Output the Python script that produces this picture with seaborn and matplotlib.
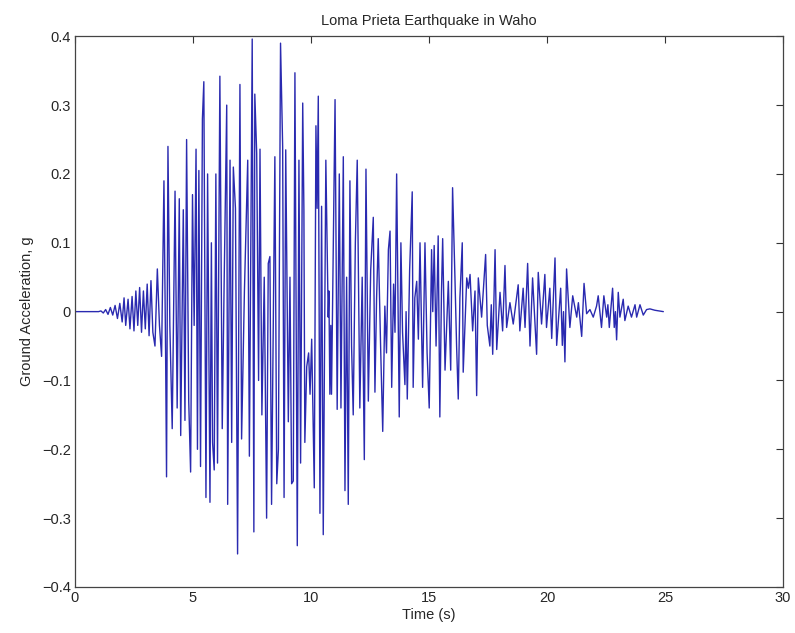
import numpy as np
import pandas as pd
import matplotlib
matplotlib.use("Agg")
import matplotlib.pyplot as plt
import seaborn as sns

# Peak/trough readings (time in s, acceleration in g) read from the record
time_s = [
    0.0, 1.0, 1.1, 1.2, 1.3, 1.4, 1.5, 1.6, 1.7, 1.8, 1.9, 2.0, 2.08, 2.15, 2.25,
    2.33, 2.42, 2.5, 2.58, 2.66, 2.74, 2.82, 2.9, 2.98, 3.06, 3.14, 3.22, 3.3, 3.39,
    3.49, 3.58, 3.67, 3.77, 3.84, 3.88, 3.94, 4.02, 4.12, 4.24, 4.33, 4.42, 4.48,
    4.59, 4.66, 4.73, 4.82, 4.9, 4.98, 5.05, 5.13, 5.19, 5.25, 5.32, 5.4, 5.46,
    5.55, 5.62, 5.72, 5.78, 5.83, 5.9, 5.97, 6.04, 6.14, 6.24, 6.32, 6.43, 6.47,
    6.57, 6.64, 6.71, 6.8, 6.89, 6.99, 7.06, 7.18, 7.32, 7.39, 7.51, 7.58, 7.62,
    7.7, 7.78, 7.84, 7.92, 8.02, 8.12, 8.19, 8.26, 8.33, 8.47, 8.55, 8.62, 8.71,
    8.8, 8.86, 8.93, 9.04, 9.11, 9.18, 9.25, 9.32, 9.42, 9.49, 9.56, 9.65, 9.70,
    9.74, 9.82, 9.9, 9.96, 10.03, 10.14, 10.21, 10.26, 10.31, 10.38, 10.45, 10.52,
    10.63, 10.73, 10.76, 10.8, 10.84, 10.87, 11.02, 11.11, 11.2, 11.27, 11.37,
    11.44, 11.51, 11.58, 11.65, 11.72, 11.79, 11.88, 11.96, 12.07, 12.17, 12.26,
    12.33, 12.43, 12.53, 12.64, 12.71, 12.78, 12.85, 12.95, 13.04, 13.13, 13.2,
    13.28, 13.35, 13.42, 13.5, 13.56, 13.63, 13.69, 13.74, 13.81, 13.88, 13.98,
    14.03, 14.08, 14.18, 14.29, 14.33, 14.4, 14.48, 14.55, 14.62, 14.73, 14.83,
    14.92, 15.01, 15.11, 15.16, 15.22, 15.3, 15.39, 15.46, 15.53, 15.58, 15.68,
    15.82, 15.92, 16.0, 16.1, 16.17, 16.24, 16.31, 16.41, 16.45, 16.6, 16.67,
    16.74, 16.85, 16.95, 17.02, 17.09, 17.23, 17.4, 17.47, 17.58, 17.64, 17.7,
    17.8, 17.87, 18.01, 18.12, 18.22, 18.29, 18.43, 18.57, 18.78, 18.85, 18.99,
    19.07, 19.18, 19.28, 19.39, 19.56, 19.63, 19.77, 19.91, 19.98, 20.12, 20.2,
    20.34, 20.41, 20.58, 20.65, 20.7, 20.76, 20.83, 20.97, 21.09, 21.26, 21.33,
    21.47, 21.57, 21.68, 21.82, 21.96, 22.1, 22.17, 22.31, 22.41, 22.53, 22.58,
    22.64, 22.78, 22.85, 22.9, 22.95, 23.02, 23.09, 23.23, 23.3, 23.44, 23.58,
    23.73, 23.8, 23.94, 24.08, 24.22, 24.36, 24.57, 24.93,
]
accel_g = [
    0.0, 0.0, 0.001, -0.002, 0.003, -0.004, 0.006, -0.005, 0.009, -0.01, 0.012,
    -0.015, 0.02, -0.02, 0.018, -0.025, 0.022, -0.028, 0.03, -0.02, 0.035, -0.03,
    0.03, -0.025, 0.04, -0.035, 0.045, -0.03, -0.05,
    0.062, -0.02, -0.065, 0.19, -0.06, -0.24, 0.24, -0.02, -0.17, 0.175, -0.14,
    0.164, -0.18, 0.148, -0.158, 0.25, -0.13, -0.233, 0.17, -0.02, 0.236, -0.2,
    0.205, -0.225, 0.28, 0.334, -0.27, 0.2, -0.277, 0.1, -0.19, -0.23, 0.2, -0.22,
    0.342, -0.17, 0.04, 0.3, -0.28, 0.22, -0.19, 0.21, 0.15, -0.352, 0.33, -0.185,
    0.03, 0.22, -0.21, 0.396, -0.32, 0.316, 0.23, -0.1, 0.236, -0.15, 0.05, -0.3,
    0.07, 0.08, -0.28, 0.225, -0.25, -0.2, 0.39, 0.24, -0.27, 0.235, -0.16, 0.05,
    -0.25, -0.246, 0.347, -0.34, 0.22, -0.22, 0.303, 0.148, -0.19, -0.08, -0.06,
    -0.12, -0.04, -0.256, 0.27, 0.15, 0.313, -0.293, 0.153, -0.324, 0.22, -0.008,
    0.03, -0.12, -0.02, -0.12, 0.308, -0.142, 0.2, -0.14, 0.225, -0.26, 0.05,
    -0.28, 0.19, -0.05, -0.15, 0.1, 0.22, -0.14, 0.05, -0.215, 0.207, -0.13, 0.06,
    0.137, -0.117, 0.02, 0.106, -0.05, -0.174, 0.008, -0.06, 0.09, 0.117, -0.11,
    0.04, -0.03, 0.2, 0.0, -0.153, 0.10, -0.03, -0.106, 0.0, -0.127, 0.06, 0.174,
    -0.11, 0.02, 0.044, -0.04, 0.10, -0.11, 0.10, -0.06, -0.14, 0.09, 0.0, 0.096,
    -0.05, 0.11, -0.153, 0.03, 0.106, -0.085, 0.044, -0.085, 0.18, 0.049, -0.05,
    -0.127, 0.02, 0.10, -0.088, 0.049, 0.034, 0.054, -0.028, 0.03, -0.122, 0.049,
    -0.008, 0.083, -0.02, -0.05, 0.01, -0.062, 0.09, -0.055, 0.028, -0.028, 0.067,
    -0.023, 0.013, -0.018, 0.039, -0.028, 0.034, -0.023, 0.07, -0.05, 0.049,
    -0.062, 0.057, -0.018, 0.054, -0.023, 0.034, -0.039, 0.078, -0.049, 0.034,
    -0.049, 0.0, -0.073, 0.062, -0.023, 0.023, -0.008, 0.013, -0.036, 0.041,
    -0.003, 0.003, -0.008, 0.008, 0.023, -0.023, 0.023, -0.008, 0.01, -0.023,
    0.034, -0.023, 0.0, -0.041, 0.028, -0.008, 0.018, -0.013, 0.008, -0.008, 0.01,
    -0.008, 0.01, -0.005, 0.003, 0.004, 0.002, 0.0,
]

x_ticks = [0, 5, 10, 15, 20, 25, 30]
y_ticks = [-0.4, -0.3, -0.2, -0.1, 0, 0.1, 0.2, 0.3, 0.4]
y_tick_labels = ["\u22120.4", "\u22120.3", "\u22120.2", "\u22120.1", "0",
                 "0.1", "0.2", "0.3", "0.4"]

df = pd.DataFrame({"Time (s)": time_s, "Ground Acceleration, g": accel_g})

sns.set_style("white")
plt.rcParams["font.family"] = ["Liberation Sans", "DejaVu Sans"]

fig = plt.figure(figsize=(7.95, 6.33), dpi=100)
ax = fig.add_axes([0.0943, 0.0727, 0.8906, 0.870])

sns.lineplot(data=df, x="Time (s)", y="Ground Acceleration, g", ax=ax,
             color="#2a2ab0", linewidth=1.0, sort=False, estimator=None)

ax.set_xlim(0, 30)
ax.set_ylim(-0.4, 0.4)
ax.set_xticks(x_ticks)
ax.set_xticklabels([str(t) for t in x_ticks], fontsize=10.5)
ax.set_yticks(y_ticks)
ax.set_yticklabels(y_tick_labels, fontsize=10.5)
ax.tick_params(direction="in", length=5, width=0.8, top=True, right=True,
               color="#333333", pad=3)
for s in ax.spines.values():
    s.set_color("#444444")
    s.set_linewidth(0.9)

ax.set_title("Loma Prieta Earthquake in Waho", fontsize=10.5, pad=8)
ax.set_xlabel("Time (s)", fontsize=10.5, labelpad=2)
ax.set_ylabel("Ground Acceleration, g", fontsize=10.5, labelpad=6)

fig.savefig("out.png", dpi=100)
